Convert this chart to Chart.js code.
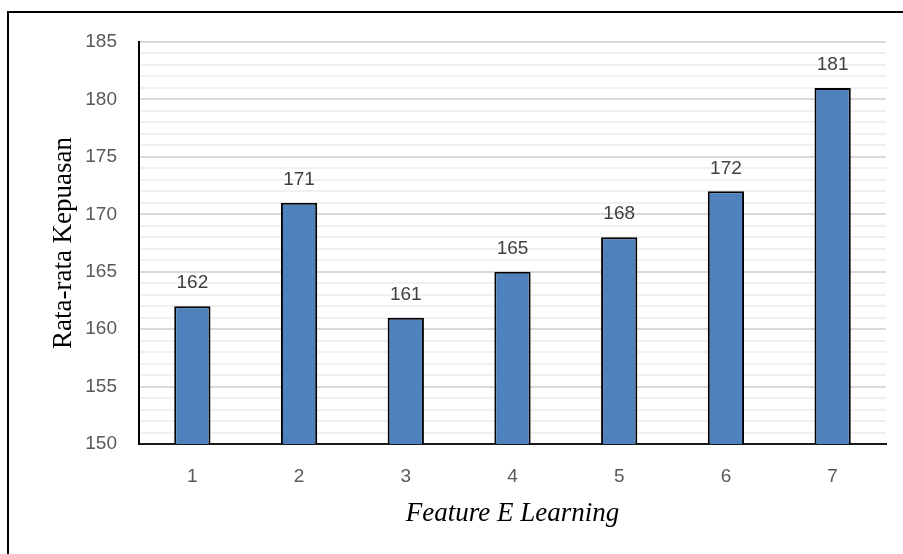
<!DOCTYPE html>
<html>
<head>
<meta charset="utf-8">
<script src="https://cdn.jsdelivr.net/npm/chart.js@4/dist/chart.umd.min.js"></script>
<style>
  html, body { margin: 0; padding: 0; background: #fff; overflow: hidden; }
  #wrap { position: relative; width: 903px; height: 554px; }
  #frame { position: absolute; left: 7px; top: 11px; width: 1200px; height: 1200px;
           border-left: 2px solid #000; border-top: 2px solid #000; pointer-events: none; }
</style>
</head>
<body>
<div id="wrap">
  <canvas id="chart" width="903" height="554"></canvas>
  <div id="frame"></div>
</div>
<script>
// Average satisfaction score per e-learning feature
const features = ['1', '2', '3', '4', '5', '6', '7'];
const scores = [162, 171, 161, 165, 168, 172, 181];
const yMin = 150;
const yMax = 185;
const yMajorStep = 5;

const tickFont = { family: "'Liberation Sans', Arial, sans-serif", size: 19 };
const titleFont = { family: "'Liberation Serif', 'Times New Roman', serif", size: 27 };

// Value labels above each bar
const valueLabels = {
  id: 'valueLabels',
  afterDatasetsDraw(chart) {
    const ctx = chart.ctx;
    const meta = chart.getDatasetMeta(0);
    ctx.save();
    ctx.font = `${tickFont.size}px ${tickFont.family}`;
    ctx.fillStyle = '#404040';
    ctx.textAlign = 'center';
    ctx.textBaseline = 'middle';
    meta.data.forEach((bar, i) => {
      ctx.fillText(String(scores[i]), bar.x, bar.y - 23);
    });
    ctx.restore();
  }
};

new Chart(document.getElementById('chart'), {
  type: 'bar',
  data: {
    labels: features,
    datasets: [{
      data: scores,
      backgroundColor: '#4F81BD',
      borderColor: '#000',
      borderWidth: 2,
      borderSkipped: false,
      barPercentage: 0.34,
      categoryPercentage: 1
    }]
  },
  options: {
    responsive: false,
    animation: false,
    devicePixelRatio: 1,
    layout: { padding: { top: 42, right: 17, left: 0, bottom: 0 } },
    plugins: { legend: { display: false }, tooltip: { enabled: false } },
    scales: {
      x: {
        grid: { display: false, drawTicks: false },
        border: { display: true, color: '#1a1a1a', width: 2 },
        ticks: { color: '#595959', font: tickFont, padding: 21 },
        title: {
          display: true, text: 'Feature E Learning', color: '#000',
          font: { ...titleFont, style: 'italic' }, padding: { top: 0, bottom: 24 }
        },
        afterFit(scale) { scale.height = 110; }
      },
      y: {
        min: yMin, max: yMax,
        grid: {
          drawTicks: false,
          color: (c) => (c.tick && c.tick.value % yMajorStep === 0) ? '#d9d9d9' : '#f0f0f0',
          lineWidth: 2
        },
        border: { display: true, color: '#000', width: 2 },
        ticks: {
          stepSize: 1, autoSkip: false, color: '#595959', font: tickFont, padding: 22,
          callback: (v) => (v % yMajorStep === 0 ? String(v) : '')
        },
        title: {
          display: true, text: 'Rata-rata Kepuasan', color: '#000',
          font: titleFont, padding: { top: 48, bottom: 0 }
        },
        afterFit(scale) { scale.width = 139; }
      }
    }
  },
  plugins: [valueLabels]
});
</script>
</body>
</html>
